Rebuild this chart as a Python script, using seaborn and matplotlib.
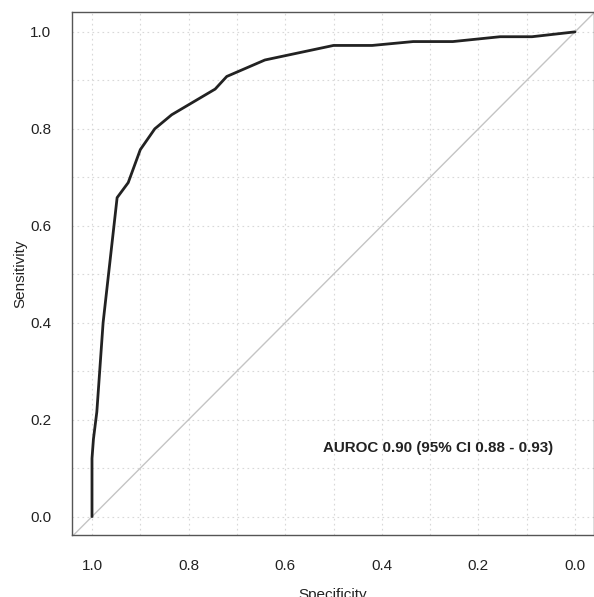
import matplotlib
matplotlib.use('Agg')
import matplotlib.pyplot as plt
import numpy as np
import pandas as pd
import seaborn as sns

sns.set_style("white")
plt.rcParams['font.family'] = ['Liberation Sans', 'DejaVu Sans']

# ROC curve (specificity, sensitivity)
specificity = [1.0, 1.0, 0.997, 0.99, 0.977, 0.948, 0.925, 0.90, 0.87,
               0.835, 0.745, 0.721, 0.642, 0.50, 0.42, 0.335, 0.253,
               0.155, 0.089, 0.0]
sensitivity = [0.0, 0.12, 0.16, 0.216, 0.40, 0.658, 0.689, 0.757, 0.80,
               0.829, 0.882, 0.908, 0.942, 0.972, 0.972, 0.98, 0.98,
               0.99, 0.99, 1.0]
auc_label = "AUROC 0.90 (95% CI 0.88 - 0.93)"
ticks = [0.0, 0.2, 0.4, 0.6, 0.8, 1.0]
grid_pos = np.round(np.arange(0, 1.01, 0.1), 1)

df = pd.DataFrame({"Specificity": specificity, "Sensitivity": sensitivity})

fig = plt.figure(figsize=(5.94, 5.97), dpi=100)
ax = fig.add_axes([72/594, 1 - 535/597, 1 - 72/594, (535 - 12)/597])

for g in grid_pos:
    ax.axhline(g, color='#d8d8d8', lw=0.8, ls=(0, (1.5, 3)), zorder=0)
    ax.axvline(g, color='#d8d8d8', lw=0.8, ls=(0, (1.5, 3)), zorder=0)

ax.axline((1, 0), (0, 1), color='#c4c4c4', lw=1.0, zorder=1)

sns.lineplot(data=df, x="Specificity", y="Sensitivity", sort=False,
             estimator=None, color='#222222', lw=2.0, ax=ax, zorder=3)

ax.text(0.284, 0.142, auc_label, ha='center', va='center',
        fontsize=10.9, fontweight='bold', color='#222222')

ax.set_xlim(1.0414, -0.0393)
ax.set_ylim(-0.038, 1.041)
ax.set_xticks(ticks)
ax.set_yticks(ticks)
ax.set_xticklabels([f"{t:.1f}" for t in ticks])
ax.set_yticklabels([f"{t:.1f}" for t in ticks])
ax.tick_params(axis='both', direction='out', length=7, width=1.0,
               color='#555555', labelsize=11, labelcolor='#222222', pad=8)
ax.tick_params(axis='x', pad=10)
for s in ax.spines.values():
    s.set_color('#555555')
    s.set_linewidth(1.0)

ax.set_xlabel("Specificity", fontsize=11, color='#222222', labelpad=11)
ax.set_ylabel("Sensitivity", fontsize=11, color='#222222', labelpad=2)

fig.savefig("out.png", dpi=100)
